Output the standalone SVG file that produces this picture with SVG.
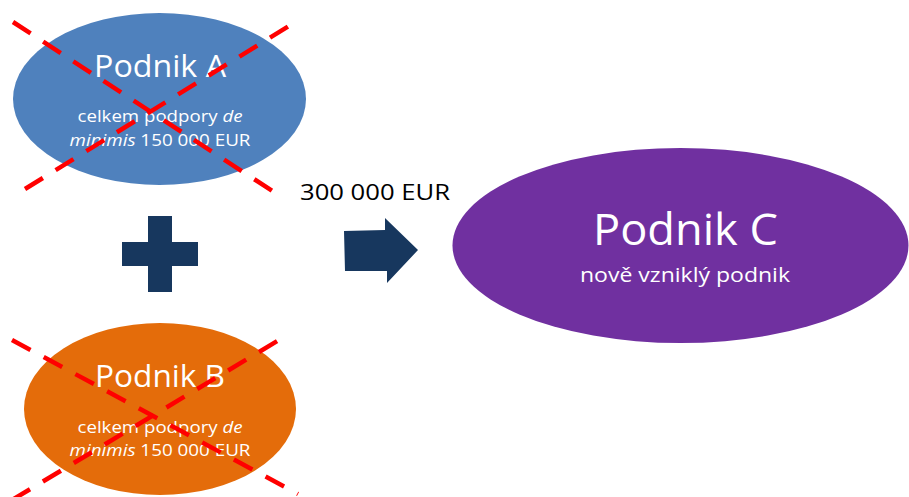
<svg xmlns="http://www.w3.org/2000/svg" width="909" height="497" viewBox="0 0 909 497">
<style>
text{font-family:"Open Sans","Noto Sans","Liberation Sans",sans-serif;fill:#fff;text-anchor:middle}
.t{font-size:31px}
.s{font-size:16px}
.x{stroke:#ff0000;stroke-width:4.5;stroke-dasharray:21 15;fill:none}
.n{fill:#17375e}
</style>
<rect width="909" height="497" fill="#fff"/>
<g id="nodeA">
<ellipse cx="159.5" cy="99" rx="146.5" ry="86" fill="#4f81bd"/>
<text class="t" x="160" y="77" textLength="132" lengthAdjust="spacingAndGlyphs">Podnik A</text>
<text class="s" x="160" y="122" textLength="165" lengthAdjust="spacingAndGlyphs">celkem podpory <tspan font-style="italic">de</tspan></text>
<text class="s" x="160" y="146" textLength="181" lengthAdjust="spacingAndGlyphs"><tspan font-style="italic">minimis</tspan> 150 000 EUR</text>
</g>
<g id="nodeB">
<ellipse cx="160" cy="409" rx="136" ry="86" fill="#e46c0a"/>
<text class="t" x="160" y="387" textLength="130" lengthAdjust="spacingAndGlyphs">Podnik B</text>
<text class="s" x="160" y="433" textLength="165" lengthAdjust="spacingAndGlyphs">celkem podpory <tspan font-style="italic">de</tspan></text>
<text class="s" x="160" y="456" textLength="181" lengthAdjust="spacingAndGlyphs"><tspan font-style="italic">minimis</tspan> 150 000 EUR</text>
</g>
<g id="nodeC">
<ellipse cx="680.5" cy="245.5" rx="228" ry="97.5" fill="#7030a0"/>
<text x="685.5" y="245" font-size="44" textLength="185" lengthAdjust="spacingAndGlyphs">Podnik C</text>
<text x="685" y="282" font-size="20" textLength="210" lengthAdjust="spacingAndGlyphs">nově vzniklý podnik</text>
</g>
<g id="crosses">
<line class="x" x1="13" y1="22" x2="280" y2="196"/>
<line class="x" x1="25" y1="189" x2="297" y2="21"/>
<line class="x" x1="12" y1="340" x2="298" y2="494"/>
<line class="x" x1="12" y1="500" x2="279" y2="340"/>
</g>
<g id="plus">
<rect class="n" x="148" y="216" width="24" height="76"/>
<rect class="n" x="122" y="242" width="76" height="24"/>
</g>
<g id="connectors">
<polygon class="n" points="344,231 385,230 385,218 418,250 387,283 387,271 345,271"/>
<text x="375" y="200" font-size="22" style="fill:#000" textLength="150" lengthAdjust="spacingAndGlyphs">300 000 EUR</text>
</g>
</svg>
